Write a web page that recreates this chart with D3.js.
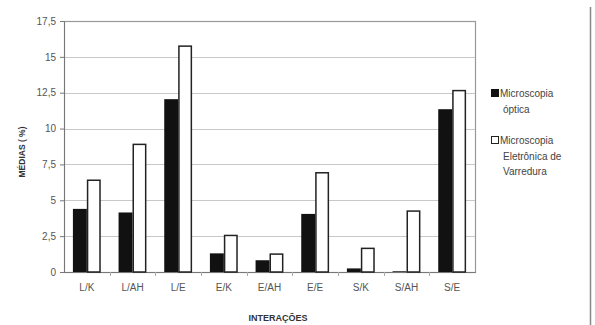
<!DOCTYPE html>
<html><head><meta charset="utf-8">
<script src="https://cdn.jsdelivr.net/npm/d3@7"></script>
<style>body{margin:0;background:#fff}svg{display:block;font-family:"Liberation Sans",Arial,sans-serif}</style>
</head><body><svg id="c" width="595" height="325"></svg>
<script>
const categories = ["L/K","L/AH","L/E","E/K","E/AH","E/E","S/K","S/AH","S/E"];
const optica = [4.4,4.15,12.05,1.3,0.82,4.05,0.25,0.05,11.35];
const eletronica = [6.45,8.95,15.8,2.6,1.3,6.97,1.7,4.3,12.7];
const yTicks = [0,2.5,5,7.5,10,12.5,15,17.5];
const yTickLabels = ["0","2,5","5","7,5","10","12,5","15","17,5"];
const seriesNames = [["Microscopia","óptica"],["Microscopia","Eletrônica de","Varredura"]];

const svg = d3.select("#c");
const L=64,R=475,T=21,B=272;
const x = d3.scaleBand().domain(categories).range([L,R]).paddingInner(0.39).paddingOuter(0.195);
const xs = d3.scaleBand().domain([0,1]).range([0,x.bandwidth()]);
const y = d3.scaleLinear().domain([0,17.5]).range([B,T]);

// frame
svg.append("line").attr("x1",590.5).attr("x2",590.5).attr("y1",7).attr("y2",325).attr("stroke","#888").attr("stroke-width",1.5);
// gridlines
svg.append("g").selectAll("line").data(yTicks.filter(d=>d>0)).join("line")
  .attr("x1",L).attr("x2",R).attr("y1",d=>Math.round(y(d))+0.5).attr("y2",d=>Math.round(y(d))+0.5)
  .attr("stroke","#c8c8c8").attr("stroke-width",1);
svg.append("rect").attr("x",L+0.5).attr("y",T+0.5).attr("width",R-L).attr("height",B-T)
  .attr("fill","none").attr("stroke","#999").attr("stroke-width",1.2);

// y axis
const ya = d3.axisLeft(y).tickValues(yTicks).tickFormat((d,i)=>yTickLabels[i]).tickSize(4).tickPadding(4);
const gy = svg.append("g").attr("transform",`translate(${L},0)`).call(ya);
gy.select(".domain").attr("stroke","#777");
gy.selectAll(".tick line").attr("stroke","#777");
gy.selectAll("text").attr("fill","#555").attr("font-size",10).attr("font-family","Liberation Sans, Arial, sans-serif");

// x axis
const xa = d3.axisBottom(x).tickSize(0).tickPadding(12);
const gx = svg.append("g").attr("transform",`translate(0,${B})`).call(xa);
gx.select(".domain").attr("stroke","#777");
gx.selectAll("text").attr("fill","#555").attr("font-size",10).attr("font-family","Liberation Sans, Arial, sans-serif");
// category boundary ticks
const step = x.step();
svg.append("g").selectAll("line").data(categories.slice(1)).join("line")
  .attr("x1",d=>Math.round(x(d)-(step-x.bandwidth())/2)+0.5).attr("x2",d=>Math.round(x(d)-(step-x.bandwidth())/2)+0.5)
  .attr("y1",B).attr("y2",B+4).attr("stroke","#aaa");

// bars
const g = svg.append("g");
g.selectAll(".o").data(categories).join("rect").attr("class","o")
  .attr("x",(d)=>x(d)+xs(0)).attr("width",xs.bandwidth())
  .attr("y",(d,i)=>y(optica[i])).attr("height",(d,i)=>y(0)-y(optica[i]))
  .attr("fill","#111");
g.selectAll(".e").data(categories).join("rect").attr("class","e")
  .attr("x",(d)=>x(d)+xs(1)+0.75).attr("width",xs.bandwidth()-1.5)
  .attr("y",(d,i)=>y(eletronica[i])+0.75).attr("height",(d,i)=>y(0)-y(eletronica[i])-0.75)
  .attr("fill","#fff").attr("stroke","#222").attr("stroke-width",1.5);

// axis titles
svg.append("text").attr("transform","translate(25,152) rotate(-90)").attr("text-anchor","middle")
  .attr("font-size",8.5).attr("font-weight","bold").attr("fill","#333").text("MÉDIAS ( %)");
svg.append("text").attr("x",278).attr("y",321).attr("text-anchor","middle")
  .attr("font-size",9).attr("font-weight","bold").attr("fill","#333").text("INTERAÇÕES");

// legend
const lg = svg.append("g").attr("font-size",10).attr("fill","#444");
const legY=[93,140];
lg.append("rect").attr("x",491).attr("y",legY[0]-4).attr("width",8).attr("height",8).attr("fill","#111");
lg.append("rect").attr("x",491.5).attr("y",legY[1]-3.5).attr("width",7).attr("height",7).attr("fill","#fff").attr("stroke","#222");
seriesNames.forEach((lines,k)=>{
  lines.forEach((t,j)=>{
    lg.append("text").attr("x",j===0?500:503).attr("y",legY[k]+4+j*15.5).text(t);
  });
});
</script></body></html>
